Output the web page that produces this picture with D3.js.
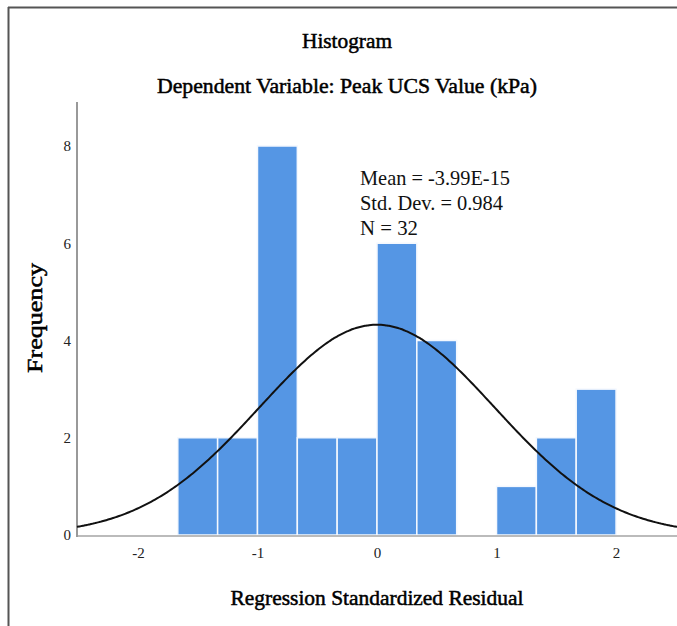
<!DOCTYPE html>
<html><head><meta charset="utf-8">
<script src="https://cdn.jsdelivr.net/npm/d3@7"></script>
<style>body{margin:0;background:#fff;} svg{display:block;}</style>
</head><body>
<svg id="c" width="677" height="626"></svg>
<script>
// Data
const binEdges = [-5/3, -4/3, -1, -2/3, -1/3, 0, 1/3, 2/3, 1, 4/3, 5/3, 2];
const binCounts = [2, 2, 8, 2, 2, 6, 4, 0, 1, 2, 3];
const xTicks = [-2, -1, 0, 1, 2];
const yTicks = [0, 2, 4, 6, 8];
const statMean = -3.99e-15;
const statSD = 0.984;
const statN = 32;
const statLines = ["Mean = -3.99E-15", "Std. Dev. = 0.984", "N = 32"];
const statWidths = [150, 143, 58];

const svg = d3.select("#c");
const serif = "'Liberation Serif','Times New Roman',serif";

const x = d3.scaleLinear().domain([-2.51, 2.51]).range([77, 677]);
const y = d3.scaleLinear().domain([0, 8]).range([535, 146]);

// frame
svg.append("line").attr("x1",8).attr("x2",677).attr("y1",7.5).attr("y2",7.5).attr("stroke","#555").attr("stroke-width",2);
svg.append("line").attr("x1",8.5).attr("x2",8.5).attr("y1",7).attr("y2",626).attr("stroke","#555").attr("stroke-width",2);

// bars
const bins = binCounts.map((c,i)=>({x0:binEdges[i], x1:binEdges[i+1], c}));
svg.append("g").selectAll("rect").data(bins.filter(d=>d.c>0)).join("rect")
  .attr("x", d=>x(d.x0)).attr("width", d=>x(d.x1)-x(d.x0))
  .attr("y", d=>y(d.c)).attr("height", d=>y(0)-y(d.c))
  .attr("fill","#5596E4").attr("stroke","#F4F8FE").attr("stroke-width",1.5);

// axes lines
svg.append("line").attr("x1",x.range()[0]).attr("x2",677).attr("y1",y(0)+1).attr("y2",y(0)+1).attr("stroke","#bbb").attr("stroke-width",2);
svg.append("line").attr("x1",77).attr("x2",77).attr("y1",102).attr("y2",y(0)+2).attr("stroke","#999").attr("stroke-width",2);

// tick labels
const fmt = d => String(d); // hyphen-minus like the original
const xAxis = d3.axisBottom(x).tickValues(xTicks).tickSize(0).tickPadding(0).tickFormat(fmt);
const gx = svg.append("g").attr("transform",`translate(0,${y(0)+12})`).call(xAxis);
gx.select(".domain").remove();
gx.selectAll("text").attr("font-family",serif).attr("font-size",15).attr("fill","#222").attr("dy","0.71em");

const yAxis = d3.axisLeft(y).tickValues(yTicks).tickSize(0).tickPadding(0).tickFormat(fmt);
const gy = svg.append("g").attr("transform",`translate(71,0)`).call(yAxis);
gy.select(".domain").remove();
gy.selectAll("text").attr("font-family",serif).attr("font-size",15).attr("fill","#222");

// normal curve
const binW = binEdges[1]-binEdges[0];
const pdf = v => statN*binW/(statSD*Math.sqrt(2*Math.PI))*Math.exp(-0.5*((v-statMean)/statSD)**2);
const pts = d3.range(0, 301).map(i => x.domain()[0] + i*(x.domain()[1]-x.domain()[0])/300);
svg.append("path").datum(pts)
  .attr("d", d3.line().x(v=>x(v)).y(v=>y(pdf(v))).curve(d3.curveBasis))
  .attr("fill","none").attr("stroke","#111").attr("stroke-width",2);

// titles (fake bold via stroke)
function boldText(sel){
  return sel.attr("font-family",serif).attr("font-size",21).attr("fill","#000")
    .attr("stroke","#000").attr("stroke-width",0.5).attr("lengthAdjust","spacingAndGlyphs");
}
boldText(svg.append("text").attr("x",347).attr("y",48).attr("text-anchor","middle")
  .attr("textLength",90)).text("Histogram");
boldText(svg.append("text").attr("x",347).attr("y",93).attr("text-anchor","middle")
  .attr("textLength",380)).text("Dependent Variable: Peak UCS Value (kPa)");
boldText(svg.append("text").attr("x",377).attr("y",605).attr("text-anchor","middle")
  .attr("textLength",293)).text("Regression Standardized Residual");
boldText(svg.append("text").attr("transform","translate(42,318) rotate(-90)").attr("text-anchor","middle")
  .attr("textLength",110)).text("Frequency");

// stats
svg.append("g").selectAll("text").data(statLines).join("text")
  .attr("x",360).attr("y",(d,i)=>185+i*25)
  .attr("textLength",(d,i)=>statWidths[i]).attr("lengthAdjust","spacingAndGlyphs")
  .attr("font-family",serif).attr("font-size",22).attr("fill","#111").text(d=>d);
</script>
</body></html>
